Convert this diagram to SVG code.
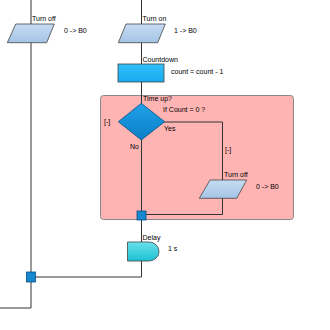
<svg xmlns="http://www.w3.org/2000/svg" width="330" height="330" viewBox="0 0 330 330">
<defs>
<linearGradient id="gPara" x1="0" y1="0" x2="0" y2="1"><stop offset="0" stop-color="#c6dcf2"/><stop offset="1" stop-color="#a4c4e6"/></linearGradient>
<linearGradient id="gRect" x1="0" y1="0" x2="0" y2="1"><stop offset="0" stop-color="#30c0fa"/><stop offset="1" stop-color="#18aaf0"/></linearGradient>
<linearGradient id="gDia" x1="0" y1="0" x2="0" y2="1"><stop offset="0" stop-color="#20a0e8"/><stop offset="1" stop-color="#0a80c8"/></linearGradient>
<linearGradient id="gDelay" x1="0" y1="0" x2="0" y2="1"><stop offset="0" stop-color="#6ae0ec"/><stop offset="1" stop-color="#1cc0d2"/></linearGradient>
</defs>
<style>
text{font-family:"Liberation Sans",Arial,sans-serif;font-size:7px;fill:#000}
.ln{stroke:#333;stroke-width:1;fill:none}
.para{fill:url(#gPara);stroke:#444;stroke-width:0.8}
.jn{fill:#1588d0;stroke:#0a4f80;stroke-width:0.8}
</style>
<rect width="330" height="330" fill="#fff"/>
<g id="group-box">
<rect x="100.5" y="95.5" width="193" height="124" rx="3" fill="#ffb4b4" stroke="#888" stroke-width="1"/>
</g>
<g id="connectors">
<path class="ln" d="M31,0 V308 H0"/>
<path class="ln" d="M141.5,0 V277 H31"/>
<path class="ln" d="M164,122 H222.5 V214.5 H141.5"/>
</g>
<g id="turnoff-left">
<polygon class="para" points="15.7,24 54.3,24 46.7,42.7 7.3,42.7"/>
<text x="32" y="21">Turn off</text>
<text x="64" y="33">0 -&gt; B0</text>
</g>
<g id="turnon">
<polygon class="para" points="126,24 165.3,24 157.7,42.7 118.3,42.7"/>
<text x="142.5" y="21">Turn on</text>
<text x="174" y="33">1 -&gt; B0</text>
</g>
<g id="countdown">
<rect x="118" y="64" width="46" height="18" fill="url(#gRect)" stroke="#444" stroke-width="0.8"/>
<text x="142.5" y="62">Countdown</text>
<text x="171" y="74">count = count - 1</text>
</g>
<g id="timeup">
<polygon points="141.3,103.3 164.7,121.7 141.3,140 118.3,121.7" fill="url(#gDia)" stroke="#0a4f80" stroke-width="0.8"/>
<text x="143" y="101">Time up?</text>
<text x="163" y="112">If  Count = 0 ?</text>
<text x="104" y="124">[-]</text>
<text x="164" y="131">Yes</text>
<text x="130" y="149">No</text>
</g>
<g id="yes-label">
<text x="225" y="152">[-]</text>
</g>
<g id="turnoff-inner">
<polygon class="para" points="210,180 246.7,180 236.7,198.3 199.3,198.3"/>
<text x="224" y="177">Turn off</text>
<text x="256" y="189">0 -&gt; B0</text>
</g>
<g id="join-inner">
<rect class="jn" x="137" y="211" width="9" height="9"/>
</g>
<g id="delay">
<path d="M127.5,242 H149 A10,9.5 0 0 1 149,261 H127.5 Z" fill="url(#gDelay)" stroke="#444" stroke-width="0.8"/>
<text x="142.5" y="240">Delay</text>
<text x="168" y="251">1 s</text>
</g>
<g id="join-outer">
<rect class="jn" x="26.5" y="272" width="9" height="10"/>
</g>
</svg>
